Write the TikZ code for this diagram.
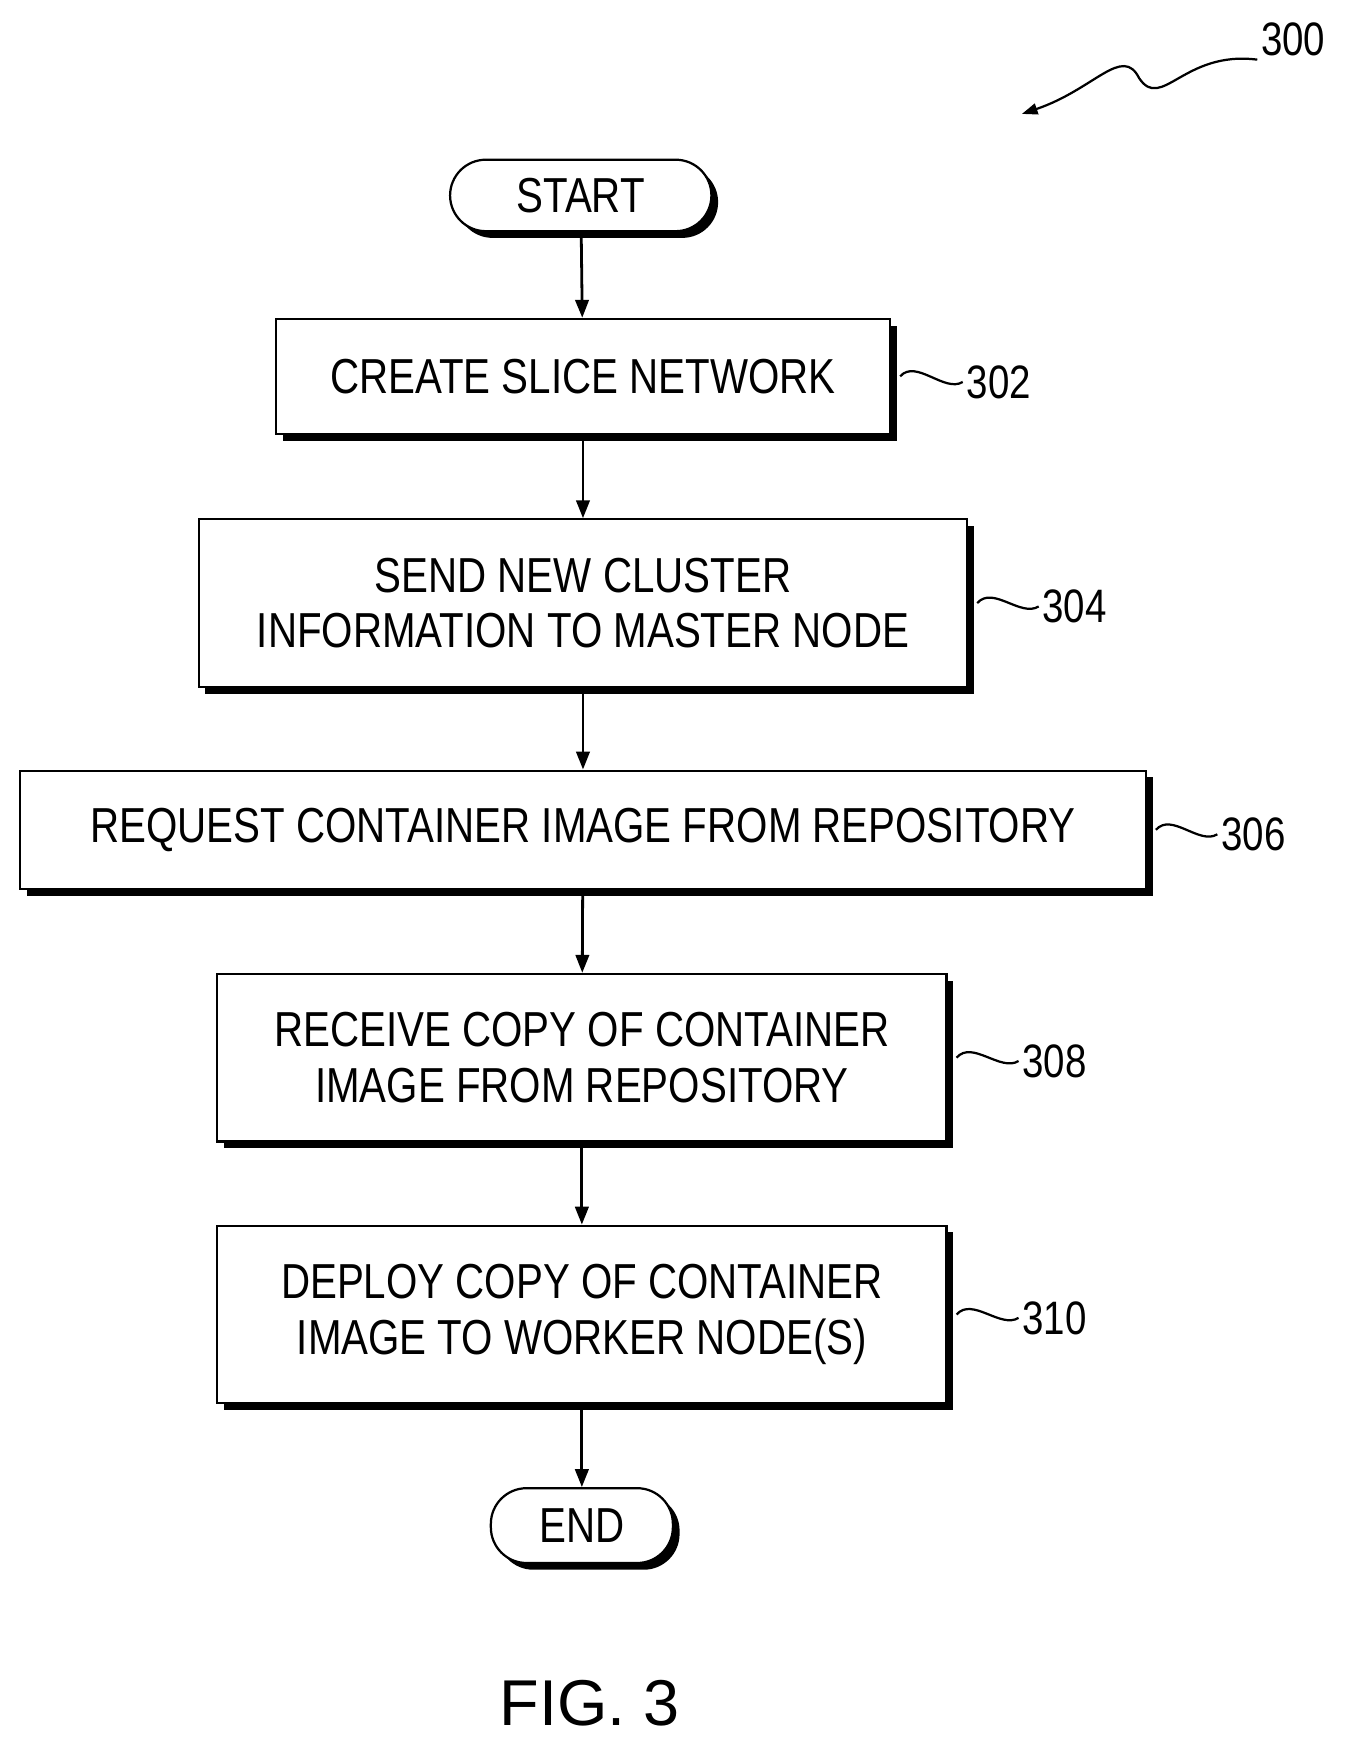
\documentclass[tikz,border=0pt]{standalone}
\usepackage{fontspec}
\setmainfont{Liberation Sans}[FakeStretch=0.82]
\newfontfamily\figfont{Liberation Sans}
\usetikzlibrary{shadows,arrows.meta}
\begin{document}
\begin{tikzpicture}[x=1pt,y=-1pt,
  box/.style={draw,line width=2pt,fill=white,inner sep=0pt,align=center,font=\fontsize{44}{50}\selectfont,
    drop shadow={shadow xshift=6pt,shadow yshift=-6pt,fill=black,opacity=1}},
  term/.style={box,rounded corners=32pt},
  lbl/.style={font=\fontsize{42}{46}\selectfont,anchor=west},
  arr/.style={line width=2.5pt,-{Triangle[length=16pt,width=12pt]}},
  sq/.style={line width=2pt}]
\useasboundingbox (0,0) rectangle (1220,1575);
\node[term,minimum width=234pt,minimum height=64pt] (s) at (520,175) {START};
\node[box,minimum width=550pt,minimum height=103pt] (b1) at (522,337) {CREATE SLICE NETWORK};
\node[box,minimum width=688pt,minimum height=150pt] (b2) at (522,540) {SEND NEW CLUSTER\\INFORMATION TO MASTER NODE};
\node[box,minimum width=1008pt,minimum height=106pt] (b3) at (522,743) {REQUEST CONTAINER IMAGE FROM REPOSITORY};
\node[box,minimum width=653pt,minimum height=150pt] (b4) at (521,947) {RECEIVE COPY OF CONTAINER\\IMAGE FROM REPOSITORY};
\node[box,minimum width=653pt,minimum height=159pt] (b5) at (521,1177) {DEPLOY COPY OF CONTAINER\\IMAGE TO WORKER NODE(S)};
\node[term,minimum width=163pt,minimum height=67pt] (e) at (521,1366) {END};
\draw[arr] (s) -- (b1);
\draw[arr] (b1) -- (b2);
\draw[arr] (b2) -- (b3);
\draw[arr] (b3) -- (b4);
\draw[arr] (b4) -- (b5);
\draw[arr] (b5) -- (e);
\node[lbl] (l1) at (862,342) {302};
\node[lbl] (l2) at (930,543) {304};
\node[lbl] (l3) at (1090,747) {306};
\node[lbl] (l4) at (912,950) {308};
\node[lbl] (l5) at (912,1180) {310};
\foreach \b/\l in {b1/l1,b2/l2,b3/l3,b4/l4,b5/l5}
  \draw[sq] ([xshift=8pt]\b.east) .. controls +(14,-16) and +(-16,10) .. (\l.west);
\node[lbl,anchor=center] (l0) at (1158,35) {300};
\coordinate (t0) at (915,102);
\draw[line width=2pt,-{Triangle[length=14pt,width=10pt]}] (l0.south west) .. controls (1060,45) and (1040,100) .. (1020,70) .. controls (1005,40) and (980,80) .. (t0);
\node[font=\figfont\fontsize{58}{60}\selectfont] (fig) at (528,1525) {FIG. 3};
\end{tikzpicture}
\end{document}
